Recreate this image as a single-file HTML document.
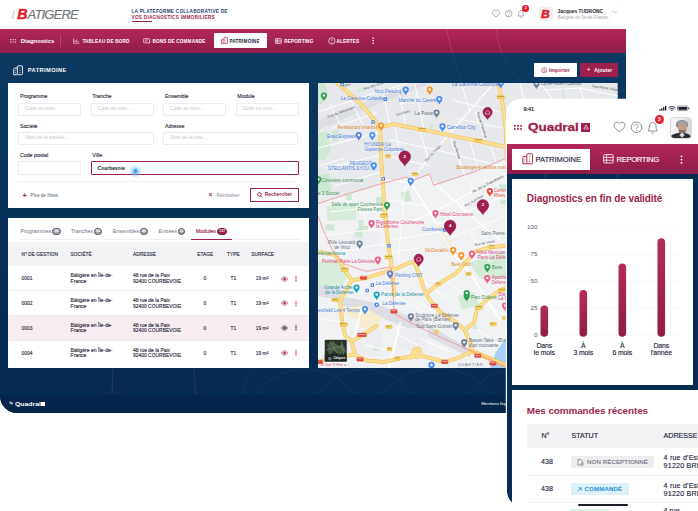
<!DOCTYPE html>
<html lang="fr"><head><meta charset="utf-8"><title>Quadral - Patrimoine</title>
<style>
*{box-sizing:border-box;margin:0;padding:0}
html,body{width:698px;height:511px;overflow:hidden;background:#fff}
body{font-family:"Liberation Sans",sans-serif;color:#1d1d2b;position:relative}
.a{position:absolute;white-space:nowrap;line-height:1}
.m{-webkit-text-stroke:.13px currentColor}
.b{font-weight:bold}
#desk{position:absolute;left:0;top:0;width:626.2px;height:413px;background:linear-gradient(#0b3961 53px,#072c54 330px);border-bottom-left-radius:17px;overflow:hidden}
.inp{position:absolute;border:.6px solid #ebecf0;border-radius:1px;background:#fff;height:13.8px}
.bdg{position:absolute;height:7px;border-radius:3.5px;background:#a3a6b0;color:#fff;font-size:3.4px;line-height:5.8px;text-align:center;font-weight:bold;border:.65px solid #50535f}
.row{position:absolute;left:8.2px;width:300.6px;height:.5px;background:#ececf0}
#phone{position:absolute;left:507px;top:99.7px;width:200px;height:405.3px;background:#fff;border-top-left-radius:14px;border-bottom-left-radius:12px;overflow:hidden;box-shadow:0 0 0 1.2px #fff}
.ml{position:absolute;white-space:nowrap;line-height:1;font-size:4.1px}
</style></head><body>
<div id="desk">
<svg class="a" style="left:0;top:0" width="627" height="414" viewBox="0 0 627 414" fill="none" stroke="#9fb3d6" stroke-opacity=".16" stroke-width=".5">
<circle cx="578" cy="22" r="82"/><circle cx="1083" cy="-117" r="653"/>
<circle cx="305" cy="430" r="61"/><circle cx="365" cy="425" r="56"/><circle cx="437" cy="440" r="72"/><circle cx="520" cy="430" r="62"/>
<path d="M113 368 L112 394 M194 368 L195.500 394" stroke="#b04a7a" stroke-opacity=".5"/><path d="M241 394 A40 40 0 0 1 259 368"/>
</svg>
<div class="a" style="left:0px;top:0px;width:627px;height:28.5px;background:#fff;"></div>
<div class="a" style="left:0px;top:28.5px;width:627px;height:24.3px;background:linear-gradient(#b3275b,#8e1d48);"></div>
<svg class="a" style="left:380px;top:28.5px" width="247" height="24.3" viewBox="380 28.5 247 24.3" fill="none" stroke="#fff" stroke-opacity=".25" stroke-width=".5">
<circle cx="578" cy="22" r="82"/><circle cx="1083" cy="-117" r="653"/></svg>
<svg class="a" style="left:500px;top:0" width="127" height="28.5" viewBox="500 0 127 28.5" fill="none" stroke="#d9dce6" stroke-opacity=".5" stroke-width=".5"><circle cx="700" cy="60" r="100"/></svg>
<div class="a" style="left:12.3px;top:13px;font-size:2.6px;color:#8a8a8a;font-style:italic;transform:rotate(-78deg);transform-origin:0 0;top:18.5px">Groupe</div>
<div class="a " style="left:17.2px;top:7.1px;font-size:14.2px;color:#e2202c;font-style:italic;font-weight:bold;-webkit-text-stroke:.5px #e2202c">B</div>
<div class="a " style="left:27.6px;top:7.9px;font-size:13px;color:#737477;font-style:italic;letter-spacing:-.85px;-webkit-text-stroke:.2px #737477">ATIGERE</div>
<div class="a " style="left:131.5px;top:9.9px;font-size:4.7px;color:#1f3a68;font-weight:bold;letter-spacing:.26px">LA PLATEFORME COLLABORATIVE DE</div>
<div class="a " style="left:131.5px;top:15.6px;font-size:4.7px;color:#9c1f4e;font-weight:bold;letter-spacing:.26px">VOS DIAGNOSTICS IMMOBILIERS</div>
<div class="a" style="left:131.8px;top:20.7px;width:20.5px;height:0.7px;background:#9c1f4e;"></div>
<svg class="a" style="left:491px;top:8.4px" width="36" height="12" viewBox="0 0 36 12" fill="none" stroke="#8a8d99" stroke-width=".7">
<path d="M5 9 C2 7 1.400 5.600 1.400 4.400 C1.400 3 2.400 2.200 3.400 2.200 C4.200 2.200 4.700 2.700 5 3.200 C5.300 2.700 5.800 2.200 6.600 2.200 C7.600 2.200 8.600 3 8.600 4.400 C8.600 5.600 8 7 5 9Z"/>
<circle cx="17.600" cy="5.500" r="3.300"/><path d="M16.500 4.600 C16.500 3.400 18.700 3.400 18.700 4.600 C18.700 5.400 17.600 5.400 17.600 6.300 M17.600 7.100v.6" stroke-width=".6"/>
<path d="M27 8 C27.800 7 27.600 5.500 27.800 4.500 C28.100 3 29 2.400 29.900 2.400 C30.800 2.400 31.700 3 32 4.500 C32.200 5.500 32 7 32.800 8 Z M29.200 9c.3.800 1.100.800 1.400 0"/>
</svg>
<div class="a" style="left:522.3px;top:5.2px;width:6.6px;height:6.6px;border-radius:50%;background:#e2202c;color:#fff;font-size:3.8px;font-weight:bold;text-align:center;line-height:6.6px">3</div>
<div class="a" style="left:539.1px;top:6.9px;width:13.9px;height:14.4px;background:#efeff2;border-radius:2.8px"></div>
<div class="a " style="left:541.2px;top:8.7px;font-size:10.8px;color:#e2202c;font-style:italic;font-weight:bold;-webkit-text-stroke:.45px #e2202c;transform:scaleX(1.12);transform-origin:0 0">B</div>
<div class="a " style="left:557.5px;top:9.7px;font-size:4.92px;color:#1d1d2b;font-weight:bold">Jacques TUDRONC</div>
<div class="a " style="left:557.5px;top:16.1px;font-size:4.45px;color:#a6a8b3;">Batigère en Île-de-France</div>
<svg class="a" style="left:611.8px;top:10.2px" width="6" height="4" viewBox="0 0 6 4" fill="none" stroke="#b0b2bd" stroke-width=".6"><path d="M.8 .8 L3 3 L5.200 .8"/></svg>
<svg class="a" style="left:10px;top:38.8px" width="7" height="5" viewBox="0 0 7 5" fill="#e9c3d2"><rect x="0" y="0" width="1.200" height="1.200"/><rect x="2.400" y="0" width="1.200" height="1.200"/><rect x="4.800" y="0" width="1.200" height="1.200"/><rect x="0" y="2.400" width="1.200" height="1.200"/><rect x="2.400" y="2.400" width="1.200" height="1.200"/><rect x="4.800" y="2.400" width="1.200" height="1.200"/></svg>
<div class="a " style="left:20.8px;top:38.7px;font-size:5.9px;color:#fff;font-weight:bold;letter-spacing:0px">Diagnostics</div>
<div class="a" style="left:60.2px;top:35px;width:0.5px;height:11.5px;background:rgba(255,255,255,.18);"></div>
<svg class="a" style="left:73px;top:37.800px" width="7" height="6" viewBox="0 0 7 6" fill="none" stroke="#fff" stroke-width=".6"><path d="M.6 .4V5.200H6.600M2.200 4V2.400M3.700 4V1.400M5.200 4V2.900"/></svg>
<div class="a " style="left:82.4px;top:39.6px;font-size:4.6px;color:#fff;font-weight:bold;letter-spacing:.2px">TABLEAU DE BORD</div>
<svg class="a" style="left:142.500px;top:37.800px" width="8" height="6" viewBox="0 0 8 6" fill="none" stroke="#fff" stroke-width=".6"><rect x=".5" y=".6" width="6" height="4.200" rx=".6"/><path d="M1.800 2h3M1.800 3.300h2M5.500 5.500l2-2"/></svg>
<div class="a " style="left:152.5px;top:39.6px;font-size:4.6px;color:#fff;font-weight:bold;letter-spacing:.2px">BONS DE COMMANDE</div>
<div class="a" style="left:214.2px;top:33.3px;width:52.9px;height:14.7px;background:#fff;border-radius:.8px"></div>
<svg class="a" style="left:220.800px;top:37.200px" width="7.400" height="7.400" viewBox="0 0 7 7" fill="none" stroke="#9c1f4e" stroke-width=".65"><rect x="2.800" y=".5" width="3.400" height="5.800" rx=".7"/><path d="M2.600 2H1.200C.8 2 .5 2.300 .5 2.700V6.300H2.800"/><path d="M4.500 1.800v.6M4.500 3.200v.6M4.500 4.600v.6M1.600 3.300v.5M1.600 4.600v.5" stroke-width=".5"/></svg>
<div class="a " style="left:229.5px;top:39.6px;font-size:4.6px;color:#23233a;font-weight:bold;letter-spacing:.2px">PATRIMOINE</div>
<svg class="a" style="left:275px;top:37.800px" width="7" height="6" viewBox="0 0 7 6" fill="none" stroke="#fff" stroke-width=".6"><rect x=".5" y=".5" width="5.800" height="5" rx=".6"/><path d="M.5 2.200h5.800M.5 3.800h5.800M2.300 .5v5"/></svg>
<div class="a " style="left:284.3px;top:39.6px;font-size:4.6px;color:#fff;font-weight:bold;letter-spacing:.2px">REPORTING</div>
<svg class="a" style="left:327.600px;top:37px" width="8" height="8" viewBox="0 0 7 7" fill="none" stroke="#fff" stroke-width=".6"><circle cx="3.400" cy="3.400" r="2.800"/><path d="M3.400 1.800v2M3.400 4.600v.5"/></svg>
<div class="a " style="left:336.5px;top:39.6px;font-size:4.6px;color:#fff;font-weight:bold;letter-spacing:.2px">ALERTES</div>
<svg class="a" style="left:372.300px;top:37.400px" width="2.400" height="8" viewBox="0 0 2.400 8" fill="#fff"><circle cx="1.200" cy="1.200" r=".8"/><circle cx="1.200" cy="3.700" r=".8"/><circle cx="1.200" cy="6.200" r=".8"/></svg>
<svg class="a" style="left:12.500px;top:64.800px" width="10.800" height="10.800" viewBox="0 0 7 7" fill="none" stroke="#fff" stroke-width=".6"><rect x="2.800" y=".5" width="3.400" height="5.800" rx=".7"/><path d="M2.600 2H1.200C.8 2 .5 2.300 .5 2.700V6.300H2.800"/><path d="M4.500 1.800v.6M4.500 3.200v.6M4.500 4.600v.6M1.600 3.300v.5M1.600 4.600v.5" stroke-width=".5"/></svg>
<div class="a " style="left:27.8px;top:68.2px;font-size:5.7px;color:#fff;font-weight:bold;letter-spacing:.4px">PATRIMOINE</div>
<div class="a" style="left:534.2px;top:62.9px;width:42.5px;height:13.8px;background:#fff;border-radius:.8px"></div>
<svg class="a" style="left:541px;top:66.600px" width="6.600" height="6.600" viewBox="0 0 7 7" fill="none" stroke="#9c1f4e" stroke-width=".6"><circle cx="3.400" cy="3.400" r="2.700"/><path d="M3.400 2v2.600M2.300 3.600l1.100 1.100 1.100-1.100"/></svg>
<div class="a " style="left:548.9px;top:67.5px;font-size:5px;color:#9c1f4e;font-weight:bold;letter-spacing:.1px">Importer</div>
<div class="a" style="left:580px;top:62.9px;width:37.7px;height:13.8px;background:#9c1f4e;border-radius:.8px"></div>
<div class="a " style="left:586.8px;top:66.6px;font-size:6.5px;color:#fff;">+</div>
<div class="a " style="left:594.2px;top:67.5px;font-size:5px;color:#fff;font-weight:bold;letter-spacing:.1px">Ajouter</div>
<div class="a" style="left:8.4px;top:82.9px;width:300.4px;height:125.3px;background:#fff;"></div>
<div class="a m" style="left:19.9px;top:94.3px;font-size:5.3px;color:#30303f;">Programme</div>
<div class="a m" style="left:92.3px;top:94.3px;font-size:5.3px;color:#30303f;">Tranche</div>
<div class="a m" style="left:165px;top:94.3px;font-size:5.3px;color:#30303f;">Ensemble</div>
<div class="a m" style="left:237.3px;top:94.3px;font-size:5.3px;color:#30303f;">Module</div>
<div class="inp" style="left:18.4px;top:102.5px;width:62.7px;height:13.4px"></div>
<div class="a " style="left:25.2px;top:106.5px;font-size:4.9px;color:#c3c5cf;">Code ou nom...</div>
<div class="inp" style="left:91px;top:102.5px;width:62.7px;height:13.4px"></div>
<div class="a " style="left:97.8px;top:106.5px;font-size:4.9px;color:#c3c5cf;">Code ou nom...</div>
<div class="inp" style="left:163.3px;top:102.5px;width:62.7px;height:13.4px"></div>
<div class="a " style="left:170.10000000000002px;top:106.5px;font-size:4.9px;color:#c3c5cf;">Code ou nom...</div>
<div class="inp" style="left:236px;top:102.5px;width:62.7px;height:13.4px"></div>
<div class="a " style="left:242.8px;top:106.5px;font-size:4.9px;color:#c3c5cf;">Code ou nom...</div>
<div class="a m" style="left:19.9px;top:124px;font-size:5.3px;color:#30303f;">Société</div>
<div class="a m" style="left:165px;top:124px;font-size:5.3px;color:#30303f;">Adresse</div>
<div class="inp" style="left:18.4px;top:131.8px;width:135.2px;height:13.2px"></div>
<div class="a " style="left:25.2px;top:136.3px;font-size:4.9px;color:#c3c5cf;">Nom de la société...</div>
<div class="inp" style="left:163.3px;top:131.8px;width:135.2px;height:13.2px"></div>
<div class="a " style="left:170.1px;top:136.3px;font-size:4.9px;color:#c3c5cf;">Nom de la voie...</div>
<div class="a m" style="left:19.9px;top:153.1px;font-size:5.3px;color:#30303f;">Code postal</div>
<div class="a m" style="left:92.3px;top:153.1px;font-size:5.3px;color:#30303f;">Ville</div>
<div class="inp" style="left:18.4px;top:161.2px;width:62.7px"></div>
<div class="inp" style="left:90.6px;top:161.2px;width:208.5px;border:.9px solid #9c1f4e;height:14px"></div>
<div class="a " style="left:97.6px;top:165.7px;font-size:5px;color:#1d1d2b;font-weight:bold">Courbevoie</div>
<div class="a" style="left:129.700px;top:165.300px;width:11.400px;height:11.400px;border-radius:50%;background:rgba(120,190,240,.3)"></div>
<div class="a" style="left:131.900px;top:167.500px;width:7px;height:7px;border-radius:50%;background:rgba(90,175,235,.5)"></div>
<div class="a" style="left:133.500px;top:169.100px;width:3.800px;height:3.800px;border-radius:50%;background:#3ea0e0"></div>
<div class="a " style="left:22.6px;top:191.9px;font-size:7.6px;color:#9c1f4e;font-weight:bold">+</div>
<div class="a" style="left:18.4px;top:180.8px;width:280.1px;height:0.5px;background:#f0f0f3;"></div>
<div class="a " style="left:30.6px;top:194px;font-size:4.6px;color:#555a6e;">Plus de filtres</div>
<div class="a " style="left:208.6px;top:192.4px;font-size:6.6px;color:#9c1f4e;font-weight:bold">×</div>
<div class="a " style="left:216.5px;top:194px;font-size:4.5px;color:#8a8d99;">Réinitialiser</div>
<div class="a" style="left:250.300px;top:187.800px;width:48.300px;height:14.600px;border:.8px solid #9c1f4e;border-radius:.8px;background:#fff"></div>
<svg class="a" style="left:256.500px;top:192.200px" width="6" height="6" viewBox="0 0 6 6" fill="none" stroke="#9c1f4e" stroke-width=".95"><circle cx="2.400" cy="2.400" r="1.800"/><path d="M3.800 3.800L5.400 5.400"/></svg>
<div class="a " style="left:264.8px;top:193.2px;font-size:4.95px;color:#9c1f4e;font-weight:bold">Rechercher</div>
<div class="a" style="left:8.4px;top:217.7px;width:300.4px;height:150.4px;background:#fff;"></div>
<div class="a " style="left:20.5px;top:229.2px;font-size:5.35px;color:#6b6f7f;">Programmes</div>
<div class="bdg" style="left:52.3px;top:228.2px;width:8.6px">20</div>
<div class="a " style="left:71px;top:229.2px;font-size:5.35px;color:#6b6f7f;">Tranches</div>
<div class="bdg" style="left:94px;top:228.2px;width:8px">50</div>
<div class="a " style="left:112.8px;top:229.2px;font-size:5.35px;color:#6b6f7f;">Ensembles</div>
<div class="bdg" style="left:139.8px;top:228.2px;width:8px">42</div>
<div class="a " style="left:158.6px;top:229.2px;font-size:5.35px;color:#6b6f7f;">Entrées</div>
<div class="bdg" style="left:177.9px;top:228.2px;width:7.4px">11</div>
<div class="a m" style="left:195.8px;top:229.2px;font-size:5.35px;color:#9c1f4e;">Modules</div>
<div class="bdg" style="left:217.3px;top:228.2px;width:9.8px;background:#9c1f4e;border-color:#7d1740">137</div>
<div class="a" style="left:20px;top:238.9px;width:280px;height:0.5px;background:#f0f0f3;"></div>
<div class="a" style="left:190.7px;top:238.5px;width:41.8px;height:0.9px;background:#9c1f4e;"></div>
<div class="a" style="left:8.2px;top:242.4px;width:300.6px;height:23.2px;background:#f3f3f5;"></div>
<div class="a m" style="left:21.5px;top:253.3px;font-size:4.75px;color:#2a2a3e;letter-spacing:.05px">N° DE GESTION</div>
<div class="a m" style="left:70.6px;top:253.3px;font-size:4.75px;color:#2a2a3e;letter-spacing:.05px">SOCIÉTÉ</div>
<div class="a m" style="left:133px;top:253.3px;font-size:4.75px;color:#2a2a3e;letter-spacing:.05px">ADRESSE</div>
<div class="a m" style="left:197.2px;top:253.3px;font-size:4.75px;color:#2a2a3e;letter-spacing:.05px">ETAGE</div>
<div class="a m" style="left:227px;top:253.3px;font-size:4.75px;color:#2a2a3e;letter-spacing:.05px">TYPE</div>
<div class="a m" style="left:251.3px;top:253.3px;font-size:4.75px;color:#2a2a3e;letter-spacing:.05px">SURFACE</div>
<div class="a" style="left:8.2px;top:315.4px;width:300.6px;height:24.8px;background:#f8eef2;"></div>
<div class="row" style="top:290.4px"></div>
<div class="row" style="top:315.2px"></div>
<div class="row" style="top:340.1px"></div>
<div class="a m" style="left:21.5px;top:276.2px;font-size:4.9px;color:#2a2a3e;line-height:5.9px">0001</div>
<div class="a m" style="left:70.6px;top:273.0px;font-size:5.1px;color:#2a2a3e;line-height:5.9px">Bâtigère en Île-de-<br>France</div>
<div class="a m" style="left:133px;top:273.0px;font-size:4.95px;color:#2a2a3e;line-height:5.9px">48 rue de la Paix<br>92400 COURBEVOIE</div>
<div class="a m" style="left:203.6px;top:276.2px;font-size:4.9px;color:#2a2a3e;line-height:5.9px">0</div>
<div class="a m" style="left:230.4px;top:276.2px;font-size:4.9px;color:#2a2a3e;line-height:5.9px">T1</div>
<div class="a m" style="left:255.8px;top:276.2px;font-size:4.9px;color:#2a2a3e;line-height:5.9px">19 m²</div>
<svg class="a" style="left:280.800px;top:275.7px" width="7" height="6" viewBox="0 0 7 6" fill="none" stroke="#b3275b" stroke-width=".7"><path d="M.5 3C1.500 1.200 2.600 .8 3.500 .8S5.500 1.200 6.500 3C5.500 4.800 4.400 5.200 3.500 5.200S1.500 4.800 .5 3Z"/><circle cx="3.500" cy="3" r="1" fill="#b3275b"/></svg>
<svg class="a" style="left:294.700px;top:275.9px" width="2" height="6" viewBox="0 0 2 6" fill="#b3275b"><circle cx="1" cy=".8" r=".68"/><circle cx="1" cy="2.800" r=".68"/><circle cx="1" cy="4.800" r=".68"/></svg>
<div class="a m" style="left:21.5px;top:300.9px;font-size:4.9px;color:#2a2a3e;line-height:5.9px">0002</div>
<div class="a m" style="left:70.6px;top:297.7px;font-size:5.1px;color:#2a2a3e;line-height:5.9px">Bâtigère en Île-de-<br>France</div>
<div class="a m" style="left:133px;top:297.7px;font-size:4.95px;color:#2a2a3e;line-height:5.9px">48 rue de la Paix<br>92400 COURBEVOIE</div>
<div class="a m" style="left:203.6px;top:300.9px;font-size:4.9px;color:#2a2a3e;line-height:5.9px">0</div>
<div class="a m" style="left:230.4px;top:300.9px;font-size:4.9px;color:#2a2a3e;line-height:5.9px">T1</div>
<div class="a m" style="left:255.8px;top:300.9px;font-size:4.9px;color:#2a2a3e;line-height:5.9px">19 m²</div>
<svg class="a" style="left:280.800px;top:300.4px" width="7" height="6" viewBox="0 0 7 6" fill="none" stroke="#b3275b" stroke-width=".7"><path d="M.5 3C1.500 1.200 2.600 .8 3.500 .8S5.500 1.200 6.500 3C5.500 4.800 4.400 5.200 3.500 5.200S1.500 4.800 .5 3Z"/><circle cx="3.500" cy="3" r="1" fill="#b3275b"/></svg>
<svg class="a" style="left:294.700px;top:300.59999999999997px" width="2" height="6" viewBox="0 0 2 6" fill="#b3275b"><circle cx="1" cy=".8" r=".68"/><circle cx="1" cy="2.800" r=".68"/><circle cx="1" cy="4.800" r=".68"/></svg>
<div class="a m" style="left:21.5px;top:325.7px;font-size:4.9px;color:#2a2a3e;line-height:5.9px">0003</div>
<div class="a m" style="left:70.6px;top:322.5px;font-size:5.1px;color:#2a2a3e;line-height:5.9px">Bâtigère en Île-de-<br>France</div>
<div class="a m" style="left:133px;top:322.5px;font-size:4.95px;color:#2a2a3e;line-height:5.9px">48 rue de la Paix<br>92400 COURBEVOIE</div>
<div class="a m" style="left:203.6px;top:325.7px;font-size:4.9px;color:#2a2a3e;line-height:5.9px">0</div>
<div class="a m" style="left:230.4px;top:325.7px;font-size:4.9px;color:#2a2a3e;line-height:5.9px">T1</div>
<div class="a m" style="left:255.8px;top:325.7px;font-size:4.9px;color:#2a2a3e;line-height:5.9px">19 m²</div>
<svg class="a" style="left:280.800px;top:325.2px" width="7" height="6" viewBox="0 0 7 6" fill="none" stroke="#23233a" stroke-width=".7"><path d="M.5 3C1.500 1.200 2.600 .8 3.500 .8S5.500 1.200 6.500 3C5.500 4.800 4.400 5.200 3.500 5.200S1.500 4.800 .5 3Z"/><circle cx="3.500" cy="3" r="1" fill="#23233a"/></svg>
<svg class="a" style="left:294.700px;top:325.4px" width="2" height="6" viewBox="0 0 2 6" fill="#23233a"><circle cx="1" cy=".8" r=".68"/><circle cx="1" cy="2.800" r=".68"/><circle cx="1" cy="4.800" r=".68"/></svg>
<div class="a m" style="left:21.5px;top:350.7px;font-size:4.9px;color:#2a2a3e;line-height:5.9px">0004</div>
<div class="a m" style="left:70.6px;top:347.5px;font-size:5.1px;color:#2a2a3e;line-height:5.9px">Bâtigère en Île-de-<br>France</div>
<div class="a m" style="left:133px;top:347.5px;font-size:4.95px;color:#2a2a3e;line-height:5.9px">48 rue de la Paix<br>92400 COURBEVOIE</div>
<div class="a m" style="left:203.6px;top:350.7px;font-size:4.9px;color:#2a2a3e;line-height:5.9px">0</div>
<div class="a m" style="left:230.4px;top:350.7px;font-size:4.9px;color:#2a2a3e;line-height:5.9px">T1</div>
<div class="a m" style="left:255.8px;top:350.7px;font-size:4.9px;color:#2a2a3e;line-height:5.9px">19 m²</div>
<svg class="a" style="left:280.800px;top:350.2px" width="7" height="6" viewBox="0 0 7 6" fill="none" stroke="#b3275b" stroke-width=".7"><path d="M.5 3C1.500 1.200 2.600 .8 3.500 .8S5.500 1.200 6.500 3C5.500 4.800 4.400 5.200 3.500 5.200S1.500 4.800 .5 3Z"/><circle cx="3.500" cy="3" r="1" fill="#b3275b"/></svg>
<svg class="a" style="left:294.700px;top:350.4px" width="2" height="6" viewBox="0 0 2 6" fill="#b3275b"><circle cx="1" cy=".8" r=".68"/><circle cx="1" cy="2.800" r=".68"/><circle cx="1" cy="4.800" r=".68"/></svg>
<svg class="a" style="left:318px;top:83px" width="299.7" height="285" viewBox="318 83 299.7 285">
<rect x="318" y="83" width="299.7" height="285" fill="#e7e9ec"/>
<path d="M318 203.6 L347.4 194 L381.1 183.8 L406.1 177.2 L413.9 180.1 L429.3 174.2 L433.7 185.2 L474.1 172 L508 157.3 L619 120 V368 H318Z" fill="#f1f2f4"/>
<g fill="#dcdee3">
<path d="M318 121 L372 100 L420 83 L432 83 L374 106 L318 130Z"/>
<path d="M340 296 L372 302 L418 319.400 L472.600 350 L470 357 L418 332 L372 314 L340 305Z"/>
<path d="M318 278 L340 284 L340 300 L318 296Z"/>
</g>
<g fill="#eceef1"><rect x="350" y="330" width="32" height="26"/><rect x="398" y="328" width="30" height="22"/><rect x="352" y="232" width="28" height="18"/></g>
<g fill="#cfe8d4">
<path d="M318 83 L324 83 L329 95 L322 104 L318 104Z"/>
<path d="M318 133 L327 131 L331 150 L325 160 L318 160Z"/>
<rect x="332.700" y="130" width="6" height="11.500"/>
<path d="M318 175 L329.700 173 L331 192.600 L318 195Z"/>
<rect x="345.900" y="194" width="6" height="6"/><rect x="376" y="197" width="6" height="6"/>
<path d="M401 192.500 L409 190.500 L411.500 200.500 L403.500 202.500Z"/>
<path d="M326.800 206 L356 204 L356.500 219.500 L327.500 221Z" fill="#d8ecdb"/>
<path d="M325.300 224.400 L334.200 224.400 L334.200 230.300 L325.300 230.300Z"/>
<path d="M358.500 220 L363.500 220 L363.500 226 L368 226 L368 231 L363 231 L362 237.600 L355 237.600 L355 231 L358.500 228Z"/>
<path d="M318 262.600 L336 258 L347.400 274.300 L343 286 L318 286Z" fill="#d8ecdb"/>
<path d="M469.700 262.600 L508 250 L508 278.700 L480 278.700Z" fill="#d4ebd8"/>
<path d="M457.900 296 L474 292 L479 305 L462 310Z" fill="#d4ebd8"/>
<rect x="473.300" y="325.300" width="3.700" height="3.700"/><rect x="373.800" y="346.600" width="4.400" height="4.400"/>
<rect x="499" y="184.500" width="9" height="5"/><rect x="500.500" y="200" width="7.500" height="4.300"/><rect x="430" y="124.500" width="3" height="4.500"/><rect x="358" y="89" width="6" height="2.500" transform="rotate(-20 361 90)"/>
</g>
<path d="M345.200 307.700 L363.500 306.200 L382.600 318 L376.700 326 L360.600 328.200 L357.600 319.400 L345.900 315Z" fill="#f8eecd"/>
<path d="M490 368 L496 351.700 L508 335.600 L530 320 L560 320 L560 368Z" fill="#a6d0f5"/>
<g stroke="#fff" fill="none" stroke-linecap="round">
<path d="M318 112 L372 94 L408 83" stroke-width="1.0"/>
<path d="M332 128 L376 113" stroke-width="1.0"/>
<path d="M318 148 L379 133" stroke-width="1.0"/>
<path d="M326 168 L381 155" stroke-width="1.0"/>
<path d="M330 104 L342 128" stroke-width="1.0"/>
<path d="M350 98 L365 130" stroke-width="1.0"/>
<path d="M318 166 L345 158" stroke-width="1.0"/>
<path d="M335 186 L381 172" stroke-width="1.0"/>
<path d="M384 96 L390 125" stroke-width="1.0"/>
<path d="M398 88 L406 126" stroke-width="1.0"/>
<path d="M415 84 L424 129" stroke-width="1.0"/>
<path d="M490.200 87.400 L449.100 134.400 L430 156.400 L411 180.800" stroke-width="1.4"/>
<path d="M449.500 136 L458 158 L466 178" stroke-width="1.2"/>
<path d="M475.500 112.400 L484.400 137.300" stroke-width="1.0"/>
<path d="M462 86 L470 112" stroke-width="1.0"/>
<path d="M390 140 L445 152 L500 166" stroke-width="1.0"/>
<path d="M388 156 L430 166" stroke-width="1.0"/>
<path d="M395 128 L402 165" stroke-width="1.0"/>
<path d="M420 132 L428 158" stroke-width="1.0"/>
<path d="M470 141 L478 170" stroke-width="1.0"/>
<path d="M490 144 L496 162" stroke-width="1.0"/>
<path d="M452 100 L500 112" stroke-width="1.0"/>
<path d="M455 118 L502 128" stroke-width="1.0"/>
<path d="M400 104 L432 98" stroke-width="1.0"/>
<path d="M410.600 182.300 L437.400 225 L444.700 237.600 L456.500 258.200 L466.700 268.500 L481.400 290.500 L500 320" stroke-width="1.8"/>
<path d="M427 176.400 L481.400 225 L500 240" stroke-width="1.6"/>
<path d="M508 172 L452 202.900 L408 223.400" stroke-width="1.6"/>
<path d="M508 194 L459.400 214.600 L437 225" stroke-width="1.2"/>
<path d="M383 180 L410.600 182.300" stroke-width="1.2"/>
<path d="M388 200 L425 206" stroke-width="1.0"/>
<path d="M390 240 L440 232" stroke-width="1.0"/>
<path d="M392 252 L420 248" stroke-width="1.0"/>
<path d="M405 186 L398 262" stroke-width="1.0"/>
<path d="M455 190 L470 215" stroke-width="1.0"/>
<path d="M470 183 L486 208" stroke-width="1.0"/>
<path d="M485 177 L500 200" stroke-width="1.0"/>
<path d="M445 240 L508 215" stroke-width="1.0"/>
<path d="M470 232 L490 262" stroke-width="1.0"/>
<path d="M320 236 L386 228" stroke-width="1.0"/>
<path d="M340 252 L388 243" stroke-width="1.0"/>
<path d="M330 212 L384 206" stroke-width="1.0"/>
<path d="M362 307.700 L356 330 L351.800 341.500" stroke-width="1.4"/>
<path d="M400.200 322.400 L395 345 L388.500 368" stroke-width="1.6"/>
<path d="M418 300 L440 318" stroke-width="1.0"/>
<path d="M420 280 L450 300" stroke-width="1.0"/>
<path d="M440 275 L470 300" stroke-width="1.0"/>
<path d="M396 296 L425 312" stroke-width="1.0"/>
<path d="M480 300 L508 318" stroke-width="1.0"/>
<path d="M478 330 L500 345" stroke-width="1.0"/>
<path d="M420 338 L450 352" stroke-width="1.0"/>
<path d="M398 335 L418 345" stroke-width="1.0"/>
<path d="M365 345 L386 350" stroke-width="1.0"/>
<path d="M320 318 L340 322" stroke-width="1.0"/>
<path d="M540 83 L546 90 L553 100" stroke-width="1.1"/>
<path d="M546 90 L580 88 L618 96" stroke-width="1.1"/>
<path d="M580 88 L584 100" stroke-width="1.0"/>
<path d="M520 83 L524 100" stroke-width="1.0"/>
<path d="M320 340 L345 346" stroke-width="1.0"/>
</g>
<g stroke="#f6ecd2" fill="none" stroke-linecap="round" stroke-width="2"><path d="M433 102 L441 118 L450.600 135.900 L443 144.700"/><path d="M438 226 L446 238 L452 249 M444 244 L452 240"/></g>
<g fill="none" stroke-linecap="round" stroke-linejoin="round">
<path d="M337.100 83 L360.600 103.600 L376.700 122.600 L380.400 131.500 L381.100 158 L382.600 179.400 L385.500 220 L388.500 246.400 L391.400 264 L394.400 295" stroke="#f1c55c" stroke-width="3.900"/>
<path d="M381.100 127 L394.400 124.100 L408 127 L422.700 129.700 L449.100 135.100 L478.500 141 L505 146.900 L520 150" stroke="#f1c55c" stroke-width="3.900"/>
<path d="M498.300 83 L502 100.600 L505.700 127 L506.400 147.600 L507 160" stroke="#f1c55c" stroke-width="3.900"/>
<path d="M318 251.600 L335.600 255.200 L341.500 264 L347.400 274.300 L351.800 280.200 L366.500 278 L382.600 272.900 L392.900 270 L406.100 264 L412 261.800 L415.300 264 L419.700 275.800 L425.600 293.400 L430 300.300 L440.300 312.100 L456.500 322.400 L465.300 331.200 L469.700 341.500 L472.600 351.700" stroke="#f1c55c" stroke-width="3.900"/>
<path d="M351.800 280.200 L345.900 290.500 L340 300.300 L342.200 322.400 L345.200 335.600 L351.800 341.500 L359.100 337 L376.700 326" stroke="#f1c55c" stroke-width="3.900"/>
<path d="M351.800 341.500 L354.700 354.700 L366.500 360.500 L384.100 362 L400.200 358.300 L412 356.100 L418 348.800" stroke="#f1c55c" stroke-width="3.900"/>
<path d="M426.400 293.400 L437.400 284.600 L456.500 272.900 L466.700 261.100 L475.500 251.600 L490.200 247.200 L515 245" stroke="#f1c55c" stroke-width="3.900"/>
<path d="M465.300 329.700 L474.100 322.400 L477 309.200 L484.400 301.800 L496.100 293 L512 284" stroke="#f1c55c" stroke-width="3.900"/>
<path d="M408 357.600 L422.700 356.100 L444.700 362 L459.400 357.600 L471.100 351.700" stroke="#f1c55c" stroke-width="3.900"/>
<path d="M318 362 L324 360.500 L340 356 L354.700 354.700" stroke="#f1c55c" stroke-width="3.900"/>
<path d="M412 356.100 L414 350 L419 349 L421 354 L416.800 357" stroke="#f1c55c" stroke-width="3.900"/>
<path d="M471.100 351 L508 366.400 L530 376" stroke="#f0c25a" stroke-width="4.600"/>
<path d="M337.100 83 L360.600 103.600 L376.700 122.600 L380.400 131.500 L381.100 158 L382.600 179.400 L385.500 220 L388.500 246.400 L391.400 264 L394.400 295" stroke="#fbdf94" stroke-width="2.700"/>
<path d="M381.100 127 L394.400 124.100 L408 127 L422.700 129.700 L449.100 135.100 L478.500 141 L505 146.900 L520 150" stroke="#fbdf94" stroke-width="2.700"/>
<path d="M498.300 83 L502 100.600 L505.700 127 L506.400 147.600 L507 160" stroke="#fbdf94" stroke-width="2.700"/>
<path d="M318 251.600 L335.600 255.200 L341.500 264 L347.400 274.300 L351.800 280.200 L366.500 278 L382.600 272.900 L392.900 270 L406.100 264 L412 261.800 L415.300 264 L419.700 275.800 L425.600 293.400 L430 300.300 L440.300 312.100 L456.500 322.400 L465.300 331.200 L469.700 341.500 L472.600 351.700" stroke="#fbdf94" stroke-width="2.700"/>
<path d="M351.800 280.200 L345.900 290.500 L340 300.300 L342.200 322.400 L345.200 335.600 L351.800 341.500 L359.100 337 L376.700 326" stroke="#fbdf94" stroke-width="2.700"/>
<path d="M351.800 341.500 L354.700 354.700 L366.500 360.500 L384.100 362 L400.200 358.300 L412 356.100 L418 348.800" stroke="#fbdf94" stroke-width="2.700"/>
<path d="M426.400 293.400 L437.400 284.600 L456.500 272.900 L466.700 261.100 L475.500 251.600 L490.200 247.200 L515 245" stroke="#fbdf94" stroke-width="2.700"/>
<path d="M465.300 329.700 L474.100 322.400 L477 309.200 L484.400 301.800 L496.100 293 L512 284" stroke="#fbdf94" stroke-width="2.700"/>
<path d="M408 357.600 L422.700 356.100 L444.700 362 L459.400 357.600 L471.100 351.700" stroke="#fbdf94" stroke-width="2.700"/>
<path d="M318 362 L324 360.500 L340 356 L354.700 354.700" stroke="#fbdf94" stroke-width="2.700"/>
<path d="M412 356.100 L414 350 L419 349 L421 354 L416.800 357" stroke="#fbdf94" stroke-width="2.700"/>
<path d="M471.100 351 L508 366.400 L530 376" stroke="#f9d77e" stroke-width="3.400"/>
</g>
<g stroke="#ee7f88" stroke-width=".7" fill="none"><path d="M318 203.600 L347.400 194 L381.100 183.800 L406.100 177.200 L413.900 180.100 L429.300 174.200 L433.700 185.200 L474.100 172 L508 157.300"/><path d="M318 216 L323.900 231.700 L334.200 253.800 L344.400 264 L366.500 271.400 L390 267 L391.400 268.500 L392.900 293 L394.400 313.600 L418 326.800 L472.600 351.700 L508 368"/></g>
<rect x="385.70" y="154.50" width="5" height="3.600" rx=".7" fill="#f6cf5f" stroke="#dfae36" stroke-width=".3"/>
<rect x="411.90" y="172.40" width="6" height="3.600" rx=".7" fill="#f6cf5f" stroke="#dfae36" stroke-width=".3"/>
<rect x="380.35" y="213.80" width="7.5" height="3.600" rx=".7" fill="#f6cf5f" stroke="#dfae36" stroke-width=".3"/>
<rect x="418.25" y="127.90" width="7.5" height="3.600" rx=".7" fill="#f6cf5f" stroke="#dfae36" stroke-width=".3"/>
<rect x="474.75" y="138.90" width="7.5" height="3.600" rx=".7" fill="#f6cf5f" stroke="#dfae36" stroke-width=".3"/>
<rect x="497.05" y="95.40" width="7.5" height="3.600" rx=".7" fill="#f6cf5f" stroke="#dfae36" stroke-width=".3"/>
<rect x="384.75" y="255.40" width="7.5" height="3.600" rx=".7" fill="#f6cf5f" stroke="#dfae36" stroke-width=".3"/>
<rect x="340.95" y="267.80" width="7.5" height="3.600" rx=".7" fill="#f6cf5f" stroke="#dfae36" stroke-width=".3"/>
<rect x="488.95" y="244.90" width="5.5" height="3.600" rx=".7" fill="#f6cf5f" stroke="#dfae36" stroke-width=".3"/>
<rect x="465.75" y="272.20" width="5.5" height="3.600" rx=".7" fill="#f6cf5f" stroke="#dfae36" stroke-width=".3"/>
<rect x="435.35" y="282.40" width="5.5" height="3.600" rx=".7" fill="#f6cf5f" stroke="#dfae36" stroke-width=".3"/>
<rect x="498.25" y="288.40" width="7.5" height="3.600" rx=".7" fill="#f6cf5f" stroke="#dfae36" stroke-width=".3"/>
<rect x="331.65" y="298.10" width="6.5" height="3.600" rx=".7" fill="#f6cf5f" stroke="#dfae36" stroke-width=".3"/>
<rect x="339.95" y="322.80" width="7.5" height="3.600" rx=".7" fill="#f6cf5f" stroke="#dfae36" stroke-width=".3"/>
<rect x="385.65" y="325.00" width="6.5" height="3.600" rx=".7" fill="#f6cf5f" stroke="#dfae36" stroke-width=".3"/>
<rect x="387.00" y="347.30" width="5" height="3.600" rx=".7" fill="#f6cf5f" stroke="#dfae36" stroke-width=".3"/>
<rect x="394.80" y="356.80" width="5" height="3.600" rx=".7" fill="#f6cf5f" stroke="#dfae36" stroke-width=".3"/>
<rect x="475.15" y="305.90" width="7.5" height="3.600" rx=".7" fill="#f6cf5f" stroke="#dfae36" stroke-width=".3"/>
<rect x="489.95" y="322.30" width="6.5" height="3.600" rx=".7" fill="#f6cf5f" stroke="#dfae36" stroke-width=".3"/>
<rect x="502.25" y="316.20" width="5.5" height="3.600" rx=".7" fill="#f6cf5f" stroke="#dfae36" stroke-width=".3"/>
<rect x="434.85" y="329.80" width="3.5" height="3.600" rx=".7" fill="#f6cf5f" stroke="#dfae36" stroke-width=".3"/>
<rect x="360.25" y="275.90" width="6.5" height="3.600" rx=".7" fill="#de4b41" stroke="#c23a31" stroke-width=".3"/>
<rect x="390.65" y="309.60" width="6.5" height="3.600" rx=".7" fill="#de4b41" stroke="#c23a31" stroke-width=".3"/>
<rect x="357.50" y="333.10" width="9" height="3.600" rx=".7" fill="#de4b41" stroke="#c23a31" stroke-width=".3"/>
<rect x="356.85" y="357.60" width="6.5" height="3.600" rx=".7" fill="#de4b41" stroke="#c23a31" stroke-width=".3"/>
<rect x="316.50" y="360.20" width="6" height="3.600" rx=".7" fill="#de4b41" stroke="#c23a31" stroke-width=".3"/>
<rect x="431.15" y="304.00" width="6.5" height="3.600" rx=".7" fill="#de4b41" stroke="#c23a31" stroke-width=".3"/>
<rect x="474.55" y="354.00" width="6.5" height="3.600" rx=".7" fill="#de4b41" stroke="#c23a31" stroke-width=".3"/>
<rect x="441.45" y="360.20" width="6.5" height="3.600" rx=".7" fill="#de4b41" stroke="#c23a31" stroke-width=".3"/>
<rect x="489.65" y="361.70" width="6.5" height="3.600" rx=".7" fill="#de4b41" stroke="#c23a31" stroke-width=".3"/>
<path d="M405.70 94.92 C404.62 92.91 402.60 91.83 402.60 89.50 A3.1 3.1 0 0 1 408.80 89.50 C408.80 91.83 406.78 92.91 405.70 94.92Z" fill="#4a8df0"/><circle cx="405.70" cy="89.50" r="1.30" fill="#fff" fill-opacity=".85"/>
<path d="M439.30 104.52 C438.22 102.51 436.20 101.42 436.20 99.10 A3.1 3.1 0 0 1 442.40 99.10 C442.40 101.42 440.38 102.51 439.30 104.52Z" fill="#4a8df0"/><circle cx="439.30" cy="99.10" r="1.30" fill="#fff" fill-opacity=".85"/>
<path d="M442.50 131.72 C441.42 129.71 439.40 128.62 439.40 126.30 A3.1 3.1 0 0 1 445.60 126.30 C445.60 128.62 443.58 129.71 442.50 131.72Z" fill="#4a8df0"/><circle cx="442.50" cy="126.30" r="1.30" fill="#fff" fill-opacity=".85"/>
<path d="M372.30 140.53 C371.22 138.51 369.20 137.42 369.20 135.10 A3.1 3.1 0 0 1 375.40 135.10 C375.40 137.42 373.38 138.51 372.30 140.53Z" fill="#4a8df0"/><circle cx="372.30" cy="135.10" r="1.30" fill="#fff" fill-opacity=".85"/>
<path d="M373.80 170.83 C372.72 168.81 370.70 167.72 370.70 165.40 A3.1 3.1 0 0 1 376.90 165.40 C376.90 167.72 374.88 168.81 373.80 170.83Z" fill="#4a8df0"/><circle cx="373.80" cy="165.40" r="1.30" fill="#fff" fill-opacity=".85"/>
<path d="M410.70 186.23 C409.62 184.21 407.60 183.12 407.60 180.80 A3.1 3.1 0 0 1 413.80 180.80 C413.80 183.12 411.78 184.21 410.70 186.23Z" fill="#4a8df0"/><circle cx="410.70" cy="180.80" r="1.30" fill="#fff" fill-opacity=".85"/>
<path d="M390.00 278.93 C388.92 276.91 386.90 275.82 386.90 273.50 A3.1 3.1 0 0 1 393.10 273.50 C393.10 275.82 391.08 276.91 390.00 278.93Z" fill="#5f7fd8"/><circle cx="390.00" cy="273.50" r="1.30" fill="#fff" fill-opacity=".85"/>
<path d="M365.00 314.53 C363.92 312.51 361.90 311.43 361.90 309.10 A3.1 3.1 0 0 1 368.10 309.10 C368.10 311.43 366.08 312.51 365.00 314.53Z" fill="#4a8df0"/><circle cx="365.00" cy="309.10" r="1.30" fill="#fff" fill-opacity=".85"/>
<path d="M500.80 88.42 C499.72 86.41 497.70 85.33 497.70 83.00 A3.1 3.1 0 0 1 503.90 83.00 C503.90 85.33 501.88 86.41 500.80 88.42Z" fill="#4a8df0"/><circle cx="500.80" cy="83.00" r="1.30" fill="#fff" fill-opacity=".85"/>
<path d="M431.50 370.32 C430.42 368.31 428.40 367.22 428.40 364.90 A3.1 3.1 0 0 1 434.60 364.90 C434.60 367.22 432.58 368.31 431.50 370.32Z" fill="#4a8df0"/><circle cx="431.50" cy="364.90" r="1.30" fill="#fff" fill-opacity=".85"/>
<path d="M358.80 140.53 C357.72 138.51 355.70 137.42 355.70 135.10 A3.1 3.1 0 0 1 361.90 135.10 C361.90 137.42 359.88 138.51 358.80 140.53Z" fill="#5f7fd8"/><circle cx="358.80" cy="135.10" r="1.30" fill="#fff" fill-opacity=".85"/>
<path d="M436.60 118.02 C435.52 116.01 433.50 114.92 433.50 112.60 A3.1 3.1 0 0 1 439.70 112.60 C439.70 114.92 437.69 116.01 436.60 118.02Z" fill="#6f8196"/><circle cx="436.60" cy="112.60" r="1.30" fill="#fff" fill-opacity=".85"/>
<path d="M359.60 248.93 C358.52 246.91 356.50 245.82 356.50 243.50 A3.1 3.1 0 0 1 362.70 243.50 C362.70 245.82 360.69 246.91 359.60 248.93Z" fill="#6f8196"/><circle cx="359.60" cy="243.50" r="1.30" fill="#fff" fill-opacity=".85"/>
<path d="M410.90 321.73 C409.81 319.71 407.80 318.62 407.80 316.30 A3.1 3.1 0 0 1 414.00 316.30 C414.00 318.62 411.98 319.71 410.90 321.73Z" fill="#6f8196"/><circle cx="410.90" cy="316.30" r="1.30" fill="#fff" fill-opacity=".85"/>
<path d="M455.70 330.73 C454.62 328.71 452.60 327.62 452.60 325.30 A3.1 3.1 0 0 1 458.80 325.30 C458.80 327.62 456.78 328.71 455.70 330.73Z" fill="#6f8196"/><circle cx="455.70" cy="325.30" r="1.30" fill="#fff" fill-opacity=".85"/>
<path d="M464.20 347.62 C463.12 345.61 461.10 344.52 461.10 342.20 A3.1 3.1 0 0 1 467.30 342.20 C467.30 344.52 465.28 345.61 464.20 347.62Z" fill="#6f8196"/><circle cx="464.20" cy="342.20" r="1.30" fill="#fff" fill-opacity=".85"/>
<path d="M429.70 94.92 C428.62 92.91 426.60 91.83 426.60 89.50 A3.1 3.1 0 0 1 432.80 89.50 C432.80 91.83 430.78 92.91 429.70 94.92Z" fill="#f2952f"/><circle cx="429.70" cy="89.50" r="1.30" fill="#fff" fill-opacity=".85"/>
<path d="M381.10 130.93 C380.02 128.91 378.00 127.83 378.00 125.50 A3.1 3.1 0 0 1 384.20 125.50 C384.20 127.83 382.19 128.91 381.10 130.93Z" fill="#f2952f"/><circle cx="381.10" cy="125.50" r="1.30" fill="#fff" fill-opacity=".85"/>
<path d="M453.10 255.53 C452.02 253.51 450.00 252.42 450.00 250.10 A3.1 3.1 0 0 1 456.20 250.10 C456.20 252.42 454.19 253.51 453.10 255.53Z" fill="#f2952f"/><circle cx="453.10" cy="250.10" r="1.30" fill="#fff" fill-opacity=".85"/>
<path d="M461.30 260.62 C460.22 258.61 458.20 257.52 458.20 255.20 A3.1 3.1 0 0 1 464.40 255.20 C464.40 257.52 462.38 258.61 461.30 260.62Z" fill="#f2952f"/><circle cx="461.30" cy="255.20" r="1.30" fill="#fff" fill-opacity=".85"/>
<path d="M323.90 100.92 C322.81 98.91 320.80 97.83 320.80 95.50 A3.1 3.1 0 0 1 327.00 95.50 C327.00 97.83 324.98 98.91 323.90 100.92Z" fill="#2f9e57"/><circle cx="323.90" cy="95.50" r="1.30" fill="#fff" fill-opacity=".85"/>
<path d="M387.00 210.43 C385.92 208.41 383.90 207.32 383.90 205.00 A3.1 3.1 0 0 1 390.10 205.00 C390.10 207.32 388.08 208.41 387.00 210.43Z" fill="#2f9e57"/><circle cx="387.00" cy="205.00" r="1.30" fill="#fff" fill-opacity=".85"/>
<path d="M318.30 184.73 C317.22 182.71 315.20 181.62 315.20 179.30 A3.1 3.1 0 0 1 321.40 179.30 C321.40 181.62 319.38 182.71 318.30 184.73Z" fill="#2f9e57"/><circle cx="318.30" cy="179.30" r="1.30" fill="#fff" fill-opacity=".85"/>
<path d="M487.30 272.43 C486.22 270.41 484.20 269.32 484.20 267.00 A3.1 3.1 0 0 1 490.40 267.00 C490.40 269.32 488.38 270.41 487.30 272.43Z" fill="#2f9e57"/><circle cx="487.30" cy="267.00" r="1.30" fill="#fff" fill-opacity=".85"/>
<path d="M466.70 301.32 C465.62 299.31 463.60 298.22 463.60 295.90 A3.1 3.1 0 0 1 469.80 295.90 C469.80 298.22 467.78 299.31 466.70 301.32Z" fill="#2f9e57"/><circle cx="466.70" cy="295.90" r="1.30" fill="#fff" fill-opacity=".85"/>
<path d="M466.70 298.43 C465.62 296.41 463.60 295.32 463.60 293.00 A3.1 3.1 0 0 1 469.80 293.00 C469.80 295.32 467.78 296.41 466.70 298.43Z" fill="#2f9e57"/><circle cx="466.70" cy="293.00" r="1.30" fill="#fff" fill-opacity=".85"/>
<path d="M371.60 228.53 C370.52 226.51 368.50 225.42 368.50 223.10 A3.1 3.1 0 0 1 374.70 223.10 C374.70 225.42 372.69 226.51 371.60 228.53Z" fill="#ee5b8c"/><circle cx="371.60" cy="223.10" r="1.30" fill="#fff" fill-opacity=".85"/>
<path d="M435.50 218.53 C434.42 216.51 432.40 215.42 432.40 213.10 A3.1 3.1 0 0 1 438.60 213.10 C438.60 215.42 436.58 216.51 435.50 218.53Z" fill="#ee5b8c"/><circle cx="435.50" cy="213.10" r="1.30" fill="#fff" fill-opacity=".85"/>
<path d="M377.90 265.03 C376.81 263.01 374.80 261.93 374.80 259.60 A3.1 3.1 0 0 1 381.00 259.60 C381.00 261.93 378.98 263.01 377.90 265.03Z" fill="#ee5b8c"/><circle cx="377.90" cy="259.60" r="1.30" fill="#fff" fill-opacity=".85"/>
<path d="M471.90 259.12 C470.81 257.11 468.80 256.02 468.80 253.70 A3.1 3.1 0 0 1 475.00 253.70 C475.00 256.02 472.98 257.11 471.90 259.12Z" fill="#ee5b8c"/><circle cx="471.90" cy="253.70" r="1.30" fill="#fff" fill-opacity=".85"/>
<path d="M487.30 283.43 C486.22 281.41 484.20 280.32 484.20 278.00 A3.1 3.1 0 0 1 490.40 278.00 C490.40 280.32 488.38 281.41 487.30 283.43Z" fill="#ee5b8c"/><circle cx="487.30" cy="278.00" r="1.30" fill="#fff" fill-opacity=".85"/>
<path d="M505.00 310.93 C503.92 308.91 501.90 307.82 501.90 305.50 A3.1 3.1 0 0 1 508.10 305.50 C508.10 307.82 506.08 308.91 505.00 310.93Z" fill="#ee5b8c"/><circle cx="505.00" cy="305.50" r="1.30" fill="#fff" fill-opacity=".85"/>
<path d="M489.90 196.53 C488.81 194.51 486.80 193.42 486.80 191.10 A3.1 3.1 0 0 1 493.00 191.10 C493.00 193.42 490.98 194.51 489.90 196.53Z" fill="#e8453c"/><circle cx="489.90" cy="191.10" r="1.30" fill="#fff" fill-opacity=".85"/>
<path d="M356.50 292.93 C355.42 290.91 353.40 289.82 353.40 287.50 A3.1 3.1 0 0 1 359.60 287.50 C359.60 289.82 357.58 290.91 356.50 292.93Z" fill="#1aa5b8"/><circle cx="356.50" cy="287.50" r="1.30" fill="#fff" fill-opacity=".85"/>
<path d="M376.70 299.93 C375.62 297.91 373.60 296.82 373.60 294.50 A3.1 3.1 0 0 1 379.80 294.50 C379.80 296.82 377.78 297.91 376.70 299.93Z" fill="#1aa5b8"/><circle cx="376.70" cy="294.50" r="1.30" fill="#fff" fill-opacity=".85"/>
<path d="M536.50 88.92 C535.41 86.91 533.40 85.83 533.40 83.50 A3.1 3.1 0 0 1 539.60 83.50 C539.60 85.83 537.59 86.91 536.50 88.92Z" fill="#6f8196"/><circle cx="536.50" cy="83.50" r="1.30" fill="#fff" fill-opacity=".85"/>
<path d="M563 88 L563.500 99" stroke="#bfe3c6" stroke-width=".8"/>
<rect x="340.50" y="82.90" width="3.400" height="3.400" rx=".6" fill="#3d7be8"/><rect x="341.50" y="83.80" width="1.400" height="1.600" fill="#fff"/>
<rect x="383.60" y="97.50" width="3.400" height="3.400" rx=".6" fill="#3d7be8"/><rect x="384.60" y="98.40" width="1.400" height="1.600" fill="#fff"/>
<rect x="371.30" y="120.30" width="3.400" height="3.400" rx=".6" fill="#3d7be8"/><rect x="372.30" y="121.20" width="1.400" height="1.600" fill="#fff"/>
<rect x="381.60" y="177.20" width="3.400" height="3.400" rx=".6" fill="#3d7be8"/><rect x="382.60" y="178.10" width="1.400" height="1.600" fill="#fff"/>
<rect x="387.30" y="244.00" width="3.400" height="3.400" rx=".6" fill="#3d7be8"/><rect x="388.30" y="244.90" width="1.400" height="1.600" fill="#fff"/>
<rect x="370.60" y="283.30" width="3.400" height="3.400" rx=".6" fill="#3d7be8"/><rect x="371.60" y="284.20" width="1.400" height="1.600" fill="#fff"/>
<rect x="365.50" y="288.80" width="3.400" height="3.400" rx=".6" fill="#3d7be8"/><rect x="366.50" y="289.70" width="1.400" height="1.600" fill="#fff"/>
<rect x="443.00" y="228.30" width="3.400" height="3.400" rx=".6" fill="#3d7be8"/><rect x="444.00" y="229.20" width="1.400" height="1.600" fill="#fff"/>
<circle cx="376.700" cy="304.700" r="2.300" fill="#3d7be8"/><rect x="375.900" y="303.800" width="1.600" height="1.800" fill="#fff"/>
<rect x="324.200" y="339.300" width="23" height="22.800" rx="1.500" fill="#27332a" stroke="#fff" stroke-width=".9"/>
<path d="M327 344 L333 341 L338 347 L343 343 L346 352 L340 355 L334 351 L329 355Z" fill="#4a5b42"/><path d="M330 341 L337 353 M341 341 L344 356 M326 350 L341 346 M333 343 L345 350" stroke="#75836a" stroke-width=".7" fill="none"/>
<rect x="324.700" y="354.500" width="22" height="7" fill="#1c241e" fill-opacity=".75"/>
<path d="M328.200 358.300 l1.600 -.9 1.600 .9 -1.600 .9Z M328.200 359.300 l1.600 .9 1.600 -.9" fill="none" stroke="#fff" stroke-width=".4"/>
<path d="M404.80 166.16 C403.03 162.79 398.90 160.73 398.90 156.60 A5.9 5.9 0 0 1 410.70 156.60 C410.70 160.73 406.57 162.79 404.80 166.16Z" fill="#a01f50" stroke="#7f1841" stroke-width=".35"/>
<path d="M482.90 214.86 C481.13 211.50 477.00 209.43 477.00 205.30 A5.9 5.9 0 0 1 488.80 205.30 C488.80 209.43 484.67 211.50 482.90 214.86Z" fill="#a01f50" stroke="#7f1841" stroke-width=".35"/>
<path d="M450.10 235.46 C448.33 232.09 444.20 230.03 444.20 225.90 A5.9 5.9 0 0 1 456.00 225.90 C456.00 230.03 451.87 232.09 450.10 235.46Z" fill="#a01f50" stroke="#7f1841" stroke-width=".35"/>
<path d="M487.60 119.61 C486.19 116.94 482.90 115.29 482.90 112.00 A4.7 4.7 0 0 1 492.30 112.00 C492.30 115.29 489.01 116.94 487.60 119.61Z" fill="#a01f50" stroke="#7f1841" stroke-width=".35"/>
<path d="M485.60 112.20 L487.60 110.20 L489.60 112.20 V114.20 H485.60Z" fill="none" stroke="#fff" stroke-width=".55"/>
<path d="M418.70 266.41 C417.29 263.74 414.00 262.09 414.00 258.80 A4.7 4.7 0 0 1 423.40 258.80 C423.40 262.09 420.11 263.74 418.70 266.41Z" fill="#a01f50" stroke="#7f1841" stroke-width=".35"/>
<path d="M416.70 259.00 L418.70 257.00 L420.70 259.00 V261.00 H416.70Z" fill="none" stroke="#fff" stroke-width=".55"/>
</svg>
<div class="a" style="left:318px;top:83px;width:299.7px;height:285px;overflow:hidden">
<div class="ml" style="left:56.5px;top:6.5px;color:#4a80da;font-size:4.5px;">Noci Piesong</div>
<div class="ml" style="left:22.8px;top:13.9px;color:#4a80da;font-size:4.6px;">La Garenne-Colombes</div>
<div class="ml" style="left:80.8px;top:16.1px;color:#4a80da;font-size:4.7px;">Marché du Centre</div>
<div class="ml" style="left:134.0px;top:-0.2px;color:#4a80da;font-size:4.8px;">La Garenne-Colombes</div>
<div class="ml" style="left:96.6px;top:29.2px;color:#66707f;font-size:4.7px;">La Poste</div>
<div class="ml" style="left:128.9px;top:43.2px;color:#4a80da;font-size:4.6px;">Carrefour City</div>
<div class="ml" style="left:19.8px;top:42.5px;color:#dd8c2c;font-size:4.6px;">Restaurant Istanbul</div>
<div class="ml" style="left:9.1px;top:52.2px;color:#4a80da;font-size:4.7px;">Esso Express</div>
<div class="ml" style="left:46.3px;top:59.8px;color:#4a80da;font-size:4.5px;">HYUNDAI La</div>
<div class="ml" style="left:46.7px;top:65.1px;color:#4a80da;font-size:4.5px;">Garenne-Colombes</div>
<div class="ml" style="left:31.6px;top:79.4px;color:#4a80da;font-size:4.5px;">PEUGEOT</div>
<div class="ml" style="left:10.0px;top:84.2px;color:#4a80da;font-size:4.5px;">STELLANTIS &amp;YOU...</div>
<div class="ml" style="left:3.2px;top:96.3px;color:#3b9158;font-size:4.6px;">Cimetière communal</div>
<div class="ml" style="left:0.0px;top:108.8px;color:#3b9158;font-size:4.5px;">e 3 Soccer</div>
<div class="ml" style="left:13.2px;top:120.2px;color:#3b9158;font-size:4.5px;">Salle de sport Courbevoie</div>
<div class="ml" style="left:39.6px;top:124.7px;color:#3b9158;font-size:4.5px;">Fitness Park</div>
<div class="ml" style="left:58.0px;top:137.7px;color:#dc4a80;font-size:4.6px;">Résidhome Courbevoie</div>
<div class="ml" style="left:58.0px;top:142.3px;color:#dc4a80;font-size:4.6px;">la Défense</div>
<div class="ml" style="left:138.2px;top:83.1px;color:#dd8c2c;font-size:4.7px;">Boulangerie santos maria</div>
<div class="ml" style="left:122.0px;top:130.0px;color:#dc4a80;font-size:4.6px;">Hôtel Courseine</div>
<div class="ml" style="left:175.9px;top:106.2px;color:#e0463d;font-size:4.5px;">Centre</div>
<div class="ml" style="left:175.9px;top:110.8px;color:#e0463d;font-size:4.5px;">Rives de</div>
<div class="ml" style="left:10.3px;top:157.9px;color:#66707f;font-size:4.5px;">Pôle Léonard</div>
<div class="ml" style="left:16.2px;top:162.7px;color:#66707f;font-size:4.5px;">de Vinci</div>
<div class="ml" style="left:0.0px;top:168.7px;color:#1f93a3;font-size:4.6px;">éfense Arena</div>
<div class="ml" style="left:4.0px;top:176.8px;color:#dc4a80;font-size:4.6px;">Pullman Paris La Défense</div>
<div class="ml" style="left:77.0px;top:190.5px;color:#4a80da;font-size:4.6px;">Parking CNIT</div>
<div class="ml" style="left:58.0px;top:199.4px;color:#4a80da;font-size:4.5px;">La Défense</div>
<div class="ml" style="left:6.2px;top:203.4px;color:#1f93a3;font-size:4.6px;">Grande Arche</div>
<div class="ml" style="left:7.0px;top:207.9px;color:#1f93a3;font-size:4.6px;">de la Défense</div>
<div class="ml" style="left:104.0px;top:144.8px;color:#4a80da;font-size:4.5px;">Courbevoie</div>
<div class="ml" style="left:163.0px;top:149.4px;color:#66707f;font-size:4.5px;">Saint Pierre-S</div>
<div class="ml" style="left:107.3px;top:166.3px;color:#dd8c2c;font-size:4.5px;">McDonald's</div>
<div class="ml" style="left:133.3px;top:179.6px;color:#dd8c2c;font-size:4.5px;">Beef Club</div>
<div class="ml" style="left:158.3px;top:168.2px;color:#dc4a80;font-size:4.6px;">Hôtel Mercure</div>
<div class="ml" style="left:159.8px;top:173.2px;color:#dc4a80;font-size:4.6px;">Paris La Défense</div>
<div class="ml" style="left:173.7px;top:183.2px;color:#3b9158;font-size:4.5px;">Boxe</div>
<div class="ml" style="left:173.7px;top:192.8px;color:#dc4a80;font-size:4.5px;">Aparthotel</div>
<div class="ml" style="left:173.7px;top:197.6px;color:#dc4a80;font-size:4.5px;">Défense</div>
<div class="ml" style="left:63.1px;top:210.3px;color:#1f93a3;font-size:4.6px;">Parvis de la Défense</div>
<div class="ml" style="left:64.6px;top:219.2px;color:#4a80da;font-size:4.5px;">La Défense</div>
<div class="ml" style="left:0.0px;top:226.1px;color:#4a80da;font-size:4.6px;">estfield Les 4 Temps</div>
<div class="ml" style="left:153.1px;top:212.8px;color:#3b9158;font-size:4.6px;">Parc Diderot</div>
<div class="ml" style="left:180.3px;top:209.9px;color:#dc4a80;font-size:4.5px;">Stay</div>
<div class="ml" style="left:180.3px;top:214.4px;color:#dc4a80;font-size:4.5px;">La C</div>
<div class="ml" style="left:97.3px;top:230.6px;color:#66707f;font-size:4.5px;">Sculpture La Défense</div>
<div class="ml" style="left:97.3px;top:234.9px;color:#66707f;font-size:4.5px;">de Paris (Barrias)</div>
<div class="ml" style="left:98.1px;top:241.6px;color:#66707f;font-size:4.5px;">Tour Saint-Gobain</div>
<div class="ml" style="left:150.9px;top:256.2px;color:#66707f;font-size:4.5px;">Bassin Takis - Œuvre</div>
<div class="ml" style="left:150.9px;top:261.4px;color:#66707f;font-size:4.5px;">d'art mouvante</div>
<div class="ml" style="left:139.9px;top:280.8px;color:#66707f;font-size:3.8px;letter-spacing:.75px">QUARTIER</div>
<div class="ml" style="left:223.0px;top:-0.7px;color:#66707f;font-size:4.5px;">Lycée Albert Camus</div>
<div class="ml" style="left:274.3px;top:1.5px;color:#4a4f58;font-size:3.5px;transform:rotate(9deg);transform-origin:0 50%;">Rue Pierre Joigneaux</div>
<div class="ml" style="left:2.0px;top:280.6px;color:#dc4a80;font-size:3.8px;">Tft Dal Tl Fne u</div>
<div class="ml" style="left:15.4px;top:273.8px;color:#fff;font-size:3.1px;font-weight:bold">Calques</div>
<div class="ml" style="left:9.5px;top:32.8px;color:#4a4f58;font-size:3.4px;transform:rotate(-20.7deg);transform-origin:0 50%;">Rue de Sébastopol</div>
<div class="ml" style="left:77.8px;top:31.3px;color:#4a4f58;font-size:3.4px;transform:rotate(-15deg);transform-origin:0 50%;">Jau Elyès</div>
<div class="ml" style="left:108.4px;top:76.9px;color:#4a4f58;font-size:3.6px;transform:rotate(-46.8deg);transform-origin:0 50%;">Rue de l'Aigle</div>
<div class="ml" style="left:135.0px;top:57.3px;color:#4a4f58;font-size:3.4px;transform:rotate(72deg);transform-origin:0 50%;">Rue Voltaire</div>
<div class="ml" style="left:158.5px;top:27.7px;color:#4a4f58;font-size:3.4px;transform:rotate(72deg);transform-origin:0 50%;">Rue de Plaisance</div>
<div class="ml" style="left:154.6px;top:107.7px;color:#4a4f58;font-size:3.8px;transform:rotate(-27.6deg);transform-origin:0 50%;">Av. de la République</div>
<div class="ml" style="left:147.3px;top:121.8px;color:#4a4f58;font-size:3.3px;transform:rotate(-29.7deg);transform-origin:0 50%;">Rue Jean Bart</div>
<div class="ml" style="left:156.8px;top:161.0px;color:#4a4f58;font-size:3.3px;transform:rotate(-10.9deg);transform-origin:0 50%;">Rue de Visien</div>
<div class="ml" style="left:46.0px;top:5.3px;color:#4a4f58;font-size:3.3px;transform:rotate(-18deg);transform-origin:0 50%;">Rue des Gros</div>
<div class="ml" style="left:27.0px;top:2.4px;color:#4a4f58;font-size:3.3px;transform:rotate(-18deg);transform-origin:0 50%;">Rue</div>
<div class="ml" style="left:85.6px;top:71.6px;color:#fff;font-size:4.4px;font-weight:bold">2</div>
<div class="ml" style="left:163.7px;top:120.3px;color:#fff;font-size:4.4px;font-weight:bold">2</div>
<div class="ml" style="left:130.9px;top:140.9px;color:#fff;font-size:4.4px;font-weight:bold">4</div>
<div class="ml" style="left:99.0px;top:45.4px;width:10px;text-align:center;color:#6b5a1e;font-size:2.5px">D408</div>
<div class="ml" style="left:155.5px;top:56.4px;width:10px;text-align:center;color:#6b5a1e;font-size:2.5px">D408</div>
<div class="ml" style="left:177.8px;top:12.9px;width:10px;text-align:center;color:#6b5a1e;font-size:2.5px">D108</div>
<div class="ml" style="left:61.1px;top:131.3px;width:10px;text-align:center;color:#6b5a1e;font-size:2.5px">D992</div>
<div class="ml" style="left:65.5px;top:172.9px;width:10px;text-align:center;color:#6b5a1e;font-size:2.5px">D992</div>
<div class="ml" style="left:21.7px;top:185.3px;width:10px;text-align:center;color:#6b5a1e;font-size:2.5px">D914</div>
<div class="ml" style="left:20.7px;top:240.3px;width:10px;text-align:center;color:#6b5a1e;font-size:2.5px">D914</div>
<div class="ml" style="left:179.0px;top:205.9px;width:10px;text-align:center;color:#6b5a1e;font-size:2.5px">D106</div>
<div class="ml" style="left:155.9px;top:223.4px;width:10px;text-align:center;color:#6b5a1e;font-size:2.5px">D106</div>
<div class="ml" style="left:91.9px;top:89.9px;width:10px;text-align:center;color:#6b5a1e;font-size:2.5px">D11</div>
<div class="ml" style="left:65.2px;top:72.0px;width:10px;text-align:center;color:#6b5a1e;font-size:2.5px">D9</div>
<div class="ml" style="left:11.9px;top:215.6px;width:10px;text-align:center;color:#6b5a1e;font-size:2.5px">D21</div>
<div class="ml" style="left:65.9px;top:242.5px;width:10px;text-align:center;color:#6b5a1e;font-size:2.5px">D9A</div>
<div class="ml" style="left:170.2px;top:239.8px;width:10px;text-align:center;color:#6b5a1e;font-size:2.5px">D9A</div>
<div class="ml" style="left:168.7px;top:162.4px;width:10px;text-align:center;color:#6b5a1e;font-size:2.5px">D6</div>
<div class="ml" style="left:145.5px;top:189.7px;width:10px;text-align:center;color:#6b5a1e;font-size:2.5px">D6</div>
<div class="ml" style="left:115.1px;top:199.9px;width:10px;text-align:center;color:#6b5a1e;font-size:2.5px">D6</div>
<div class="ml" style="left:66.5px;top:264.8px;width:10px;text-align:center;color:#6b5a1e;font-size:2.5px">D9</div>
<div class="ml" style="left:74.3px;top:274.3px;width:10px;text-align:center;color:#6b5a1e;font-size:2.5px">D7</div>
<div class="ml" style="left:40.5px;top:193.4px;width:10px;text-align:center;color:#fff;font-size:2.5px">N13</div>
<div class="ml" style="left:70.9px;top:227.1px;width:10px;text-align:center;color:#fff;font-size:2.5px">N13</div>
<div class="ml" style="left:39.0px;top:250.6px;width:10px;text-align:center;color:#fff;font-size:2.5px">N1013</div>
<div class="ml" style="left:37.1px;top:275.1px;width:10px;text-align:center;color:#fff;font-size:2.5px">N13</div>
<div class="ml" style="left:111.4px;top:221.5px;width:10px;text-align:center;color:#fff;font-size:2.5px">N13</div>
<div class="ml" style="left:154.8px;top:271.5px;width:10px;text-align:center;color:#fff;font-size:2.5px">N13</div>
<div class="ml" style="left:121.7px;top:277.7px;width:10px;text-align:center;color:#fff;font-size:2.5px">N13</div>
<div class="ml" style="left:169.9px;top:279.2px;width:10px;text-align:center;color:#fff;font-size:2.5px">N13</div>
</div>
<div class="a" style="left:0px;top:394.7px;width:627px;height:21px;background:#05264a;"></div>
<div class="a " style="left:9.5px;top:402.2px;font-size:3px;color:#fff;font-weight:bold">by</div>
<div class="a " style="left:14.6px;top:401.3px;font-size:6px;color:#fff;font-weight:bold;transform:scaleX(1.14);transform-origin:0 0">Quadral</div>
<div class="a" style="left:40.9px;top:401.9px;width:4.2px;height:4.2px;background:#fff;"></div>
<div class="a " style="left:481.2px;top:402.2px;font-size:4.35px;color:#fff;">Mentions légales</div>
</div>
<div id="phone">
<div class="a" style="left:0px;top:44.3px;width:200px;height:361px;background:#072d55;border-bottom-left-radius:13px"></div>
<div class="a " style="left:16.4px;top:7.4px;font-size:5.6px;color:#1d1d2b;font-weight:bold;letter-spacing:-.15px">9:41</div>
<svg class="a" style="left:150px;top:4.3px" width="36" height="8" viewBox="0 0 36 8" fill="#1d1d2b">
<rect x="2.300" y="5.200" width="1.300" height="1.400"/><rect x="4.200" y="4.200" width="1.300" height="2.400"/><rect x="6.100" y="3.100" width="1.300" height="3.500"/><rect x="8" y="2" width="1.300" height="4.600"/>
<g fill="none" stroke="#1d1d2b" stroke-width=".9" stroke-linecap="round"><path d="M11.700 3.700 A4.600 4.600 0 0 1 18.100 3.700"/><path d="M13 5 A2.800 2.800 0 0 1 16.800 5"/></g><circle cx="14.900" cy="6.300" r=".7"/>
<rect x="20.500" y="2" width="10.500" height="4.600" rx="1.300" fill="none" stroke="#1d1d2b" stroke-width=".5"/><rect x="21.400" y="2.900" width="8.700" height="2.800" rx=".7"/><rect x="31.500" y="3.400" width=".9" height="1.800" rx=".4"/>
</svg>
<svg class="a" style="left:6.9px;top:25.2px" width="9" height="6" viewBox="0 0 9 6" fill="#9c1f4e"><rect x="0" y="0" width="1.700" height="1.700"/><rect x="3.100" y="0" width="1.700" height="1.700"/><rect x="6.200" y="0" width="1.700" height="1.700"/><rect x="0" y="3.100" width="1.700" height="1.700"/><rect x="3.100" y="3.100" width="1.700" height="1.700"/><rect x="6.200" y="3.100" width="1.700" height="1.700"/></svg>
<div class="a " style="left:21.3px;top:21.8px;font-size:11.6px;color:#9c1f4e;font-weight:bold;transform:scaleX(1.16);transform-origin:0 0;-webkit-text-stroke:.3px #9c1f4e">Quadral</div>
<div class="a" style="left:74px;top:23.1px;width:9.2px;height:8.8px;background:#9c1f4e;"></div>
<svg class="a" style="left:75.6px;top:24.5px" width="6" height="6" viewBox="0 0 6 6" fill="none" stroke="#fff" stroke-width=".6"><path d="M3 .8L5.200 5H.8Z"/><path d="M3 2.600v1.200" /></svg>
<svg class="a" style="left:106px;top:19.5px" width="60" height="18" viewBox="0 0 60 18" fill="none" stroke="#8a8d99" stroke-width="1">
<path d="M6.500 12.600 C2.300 9.800 1 8 1 6.300 C1 4.500 2.400 3.300 3.900 3.300 C5.100 3.300 6 4 6.500 4.900 C7 4 7.900 3.300 9.100 3.300 C10.600 3.300 12 4.500 12 6.300 C12 8 10.700 9.800 6.500 12.600Z"/>
<circle cx="23.500" cy="8.300" r="5.300"/><path d="M21.700 6.900 C21.700 4.900 25.300 4.900 25.300 6.900 C25.300 8.200 23.500 8.200 23.500 9.600 M23.500 10.800v1" stroke-width=".9"/>
<path d="M35.200 12 C36.400 10.500 36.100 8.400 36.400 6.800 C36.800 4.500 38.200 3.400 39.700 3.400 C41.200 3.400 42.600 4.500 43 6.800 C43.300 8.400 43 10.500 44.200 12 Z M38.500 13.500c.5 1.200 1.900 1.200 2.400 0"/>
</svg>
<div class="a" style="left:147.6px;top:15.3px;width:9.400px;height:9.400px;border-radius:50%;background:#e5202e;color:#fff;font-size:5.500px;font-weight:bold;text-align:center;line-height:9.400px">3</div>
<div class="a" style="left:163.2px;top:17.3px;width:21.600px;height:21.800px;border-radius:4.500px;overflow:hidden;border:.5px solid #d5d8de;background:linear-gradient(100deg,#f4f5f7 20%,#d3d7dd 90%)">
<div class="a" style="left:5.300px;top:2.200px;width:11.500px;height:8px;border-radius:50% 50% 30% 30%;background:#8f8f92"></div>
<div class="a" style="left:6.400px;top:4.400px;width:9.200px;height:11.200px;border-radius:42% 42% 48% 48%;background:#c59c86"></div>
<div class="a" style="left:6.400px;top:3.200px;width:9.200px;height:3.400px;border-radius:50% 50% 40% 40%;background:#a5a3a3"></div>
<div class="a" style="left:7.800px;top:11.800px;width:6.400px;height:3.800px;border-radius:0 0 50% 50%;background:#7d6f68"></div>
<div class="a" style="left:-1px;top:15.500px;width:21px;height:10px;border-radius:50% 40% 0 0;background:#2b2d31"></div>
<div class="a" style="left:9.200px;top:15px;width:4px;height:4px;background:#d8d3cf;transform:rotate(45deg)"></div>
</div>
<div class="a" style="left:0px;top:44.5px;width:200px;height:30.2px;background:linear-gradient(#b3275b,#8e1d48);"></div>
<div class="a" style="left:5.2px;top:49.3px;width:78px;height:20.6px;background:#fff;"></div>
<svg class="a" style="left:14.6px;top:53.7px" width="12" height="12" viewBox="0 0 7 7" fill="none" stroke="#9c1f4e" stroke-width=".55"><rect x="2.800" y=".5" width="3.400" height="5.800" rx=".7"/><path d="M2.600 2H1.200C.8 2 .5 2.300 .5 2.700V6.300H2.800"/><path d="M4.500 1.800v.6M4.500 3.200v.6M4.500 4.600v.6M1.600 3.300v.5M1.600 4.600v.5" stroke-width=".5"/></svg>
<div class="a m" style="left:28.6px;top:56.1px;font-size:7.6px;color:#23233a;letter-spacing:-.08px">PATRIMOINE</div>
<svg class="a" style="left:95.7px;top:54.6px" width="11" height="10" viewBox="0 0 11 10" fill="none" stroke="#fff" stroke-width=".8"><rect x=".6" y=".6" width="9.600" height="8.400" rx="1"/><path d="M.6 3.400h9.600M.6 6.200h9.600M3.600 .6v8.400"/></svg>
<div class="a m" style="left:109.5px;top:56.1px;font-size:7.6px;color:#fff;letter-spacing:-.3px">REPORTING</div>
<svg class="a" style="left:173.4px;top:55.1px" width="3" height="10" viewBox="0 0 3 10" fill="#fff"><circle cx="1.500" cy="1.300" r=".9"/><circle cx="1.500" cy="4.600" r=".9"/><circle cx="1.500" cy="7.900" r=".9"/></svg>
<div class="a" style="left:37.6px;top:74.7px;width:0.6px;height:5.2px;background:rgba(255,255,255,.13);"></div>
<div class="a" style="left:110.4px;top:74.7px;width:0.6px;height:5.2px;background:rgba(255,255,255,.13);"></div>
<div class="a" style="left:5px;top:79.8px;width:180.7px;height:205.6px;background:#fff;"></div>
<div class="a " style="left:19.8px;top:93.9px;font-size:10.05px;color:#9c1f4e;font-weight:bold;letter-spacing:-.1px">Diagnostics en fin de validité</div>
<svg class="a" style="left:5px;top:115.3px" width="180" height="160" viewBox="512 215 180 160" font-family="Liberation Sans, sans-serif">
<defs><linearGradient id="bg" x1="0" y1="0" x2="0" y2="1"><stop offset="0" stop-color="#b52a5d"/><stop offset="1" stop-color="#8f1d48"/></linearGradient></defs>
<g stroke="#f0f0f2" stroke-width=".5"><path d="M545 227.300H680M545 254.300H680M545 281.300H680M545 308.300H680M545 335.300H680"/></g>
<g fill="url(#bg)"><rect x="540.500" y="305.500" width="7.600" height="31.300" rx="3.800"/><rect x="579.500" y="290" width="7.600" height="46.800" rx="3.800"/><rect x="618.500" y="263.500" width="7.600" height="73.300" rx="3.800"/><rect x="657.500" y="238.300" width="7.600" height="98.500" rx="3.800"/></g>
</svg>
<div class="a" style="left:10.4px;top:124.5px;width:20px;text-align:right;font-size:6.200px;color:#555a6e">100</div>
<div class="a" style="left:10.4px;top:151.5px;width:20px;text-align:right;font-size:6.200px;color:#555a6e">75</div>
<div class="a" style="left:10.4px;top:178.5px;width:20px;text-align:right;font-size:6.200px;color:#555a6e">50</div>
<div class="a" style="left:10.4px;top:205.5px;width:20px;text-align:right;font-size:6.200px;color:#555a6e">25</div>
<div class="a" style="left:10.4px;top:232.5px;width:20px;text-align:right;font-size:6.200px;color:#555a6e">0</div>
<div class="a m" style="left:17.3px;top:242.5px;width:40px;text-align:center;font-size:6.900px;line-height:7.300px;color:#23233a;letter-spacing:-.1px">Dans<br>le mois</div>
<div class="a m" style="left:56.3px;top:242.5px;width:40px;text-align:center;font-size:6.900px;line-height:7.300px;color:#23233a;letter-spacing:-.1px">À<br>3 mois</div>
<div class="a m" style="left:95.3px;top:242.5px;width:40px;text-align:center;font-size:6.900px;line-height:7.300px;color:#23233a;letter-spacing:-.1px">À<br>6 mois</div>
<div class="a m" style="left:134.3px;top:242.5px;width:40px;text-align:center;font-size:6.900px;line-height:7.300px;color:#23233a;letter-spacing:-.1px">Dans<br>l'année</div>
<div class="a" style="left:5px;top:290.6px;width:200px;height:125px;background:#fff;"></div>
<div class="a " style="left:19.8px;top:306.3px;font-size:9.9px;color:#9c1f4e;font-weight:bold;letter-spacing:-.08px">Mes commandes récentes</div>
<div class="a" style="left:19.8px;top:324.0px;width:180px;height:24.1px;background:#f3f3f5;"></div>
<div class="a m" style="left:34.5px;top:333.8px;font-size:7.1px;color:#23233a;">N°</div>
<div class="a m" style="left:64.5px;top:333.8px;font-size:7.1px;color:#23233a;">STATUT</div>
<div class="a m" style="left:156.6px;top:333.8px;font-size:7.1px;color:#23233a;">ADRESSE</div>
<div class="a" style="left:19.8px;top:375.5px;width:180px;height:0.5px;background:#f0f0f3;"></div>
<div class="a" style="left:19.8px;top:402.7px;width:180px;height:0.5px;background:#f0f0f3;"></div>
<div class="a m" style="left:34px;top:359.0px;font-size:7.1px;color:#23233a;">438</div>
<div class="a" style="left:64.2px;top:356.2px;width:82.8px;height:11.9px;background:#ededee;border-radius:1px"></div>
<svg class="a" style="left:69.5px;top:358.9px" width="7" height="7" viewBox="0 0 7 7" fill="none" stroke="#6d7080" stroke-width=".7"><path d="M1 .6H4L5.600 2.200V6H1Z"/><circle cx="5.200" cy="5.200" r="1.200" fill="#ededee"/></svg>
<div class="a m" style="left:80px;top:359.1px;font-size:6.1px;color:#6d7080;letter-spacing:.12px">NON RÉCEPTIONNÉ</div>
<div class="a m" style="left:156.6px;top:354.3px;font-size:7.1px;color:#23233a;line-height:8.5px;letter-spacing:.2px">4 rue d'Estienne<br>91220 BRETIGNY</div>
<div class="a m" style="left:34px;top:386.4px;font-size:7.1px;color:#23233a;">438</div>
<div class="a" style="left:64.2px;top:383.7px;width:58.1px;height:11.8px;background:#def0fb;border-radius:1px"></div>
<svg class="a" style="left:70.3px;top:386.9px" width="5" height="5" viewBox="0 0 5 5" fill="none" stroke="#1f8fd0" stroke-width=".8"><path d="M.7 4.300L4.200 .8M1.600 .8H4.200V3.400"/></svg>
<div class="a " style="left:77.5px;top:386.6px;font-size:6.1px;color:#1f8fd0;font-weight:bold;letter-spacing:.15px">COMMANDÉ</div>
<div class="a m" style="left:156.6px;top:382.1px;font-size:7.1px;color:#23233a;line-height:8.5px;letter-spacing:.2px">4 rue d'Estienne<br>91220 BRETIGNY</div>
</div>
<div class="a" style="left:512px;top:503px;width:186px;height:8px;background:#fff;"></div>
<div class="a" style="left:571.2px;top:508.8px;width:40px;height:4px;background:#d8f3e4;"></div>
<div class="a m" style="left:663.6px;top:508.2px;font-size:7.1px;color:#23233a;">4 rue</div>
<div class="a" style="left:577.8px;top:504px;width:50px;height:2px;background:#1d1d2b;border-radius:1px"></div>
</body></html>
